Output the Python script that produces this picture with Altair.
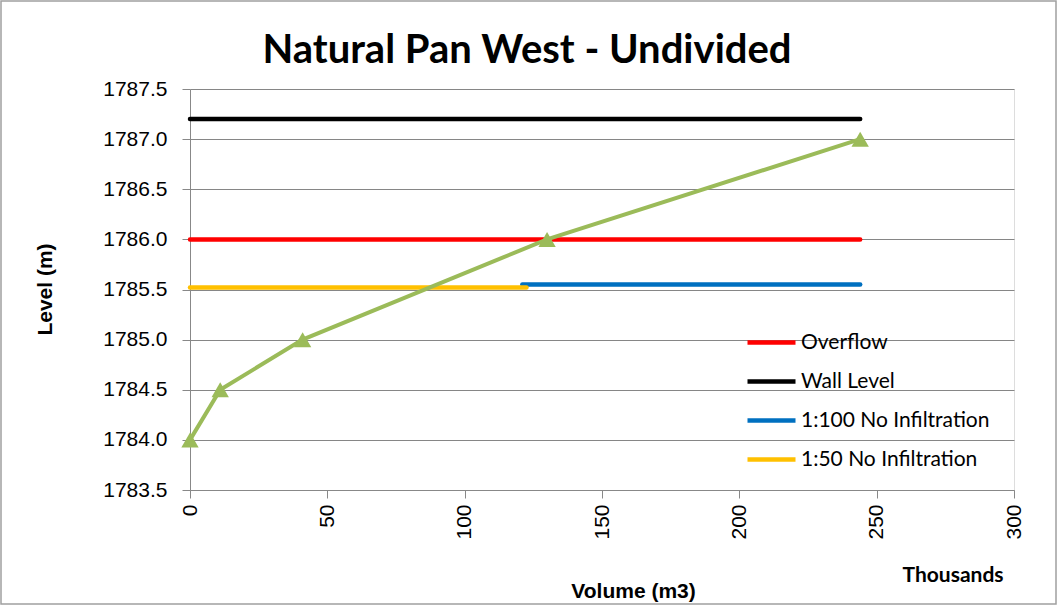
import altair as alt
import pandas as pd

# Stage-volume curve (volume in thousands of m3, level in m)
curve_volume = [0, 11, 41, 130, 244]
curve_level = [1784.0, 1784.5, 1785.0, 1786.0, 1787.0]

# Reference levels, each drawn as a horizontal line over a volume range
ref_names = ["Overflow", "Wall Level", "1:100 No Infiltration", "1:50 No Infiltration"]
ref_levels = [1786.0, 1787.2, 1785.55, 1785.52]
ref_start = [0, 0, 121, 0]
ref_end = [244, 244, 244, 122.5]
ref_colors = ["#ff0000", "#000000", "#0070c0", "#ffc000"]

x_ticks = [0, 50, 100, 150, 200, 250, 300]
y_ticks = [1783.5, 1784.0, 1784.5, 1785.0, 1785.5, 1786.0, 1786.5, 1787.0, 1787.5]

FONT = "Lato"
FS = 21

curve = pd.DataFrame({"volume": curve_volume, "level": curve_level})
refs = pd.DataFrame(
    [
        {"series": n, "volume": v, "level": lv}
        for n, lv, s, e in zip(ref_names, ref_levels, ref_start, ref_end)
        for v in (s, e)
    ]
)

x_scale = alt.Scale(domain=[0, 300], nice=False)
y_scale = alt.Scale(domain=[1783.5, 1787.5], nice=False, zero=False)

x_axis = alt.Axis(
    values=x_ticks,
    labelAngle=-90,
    labelAlign="right",
    labelBaseline="middle",
    labelFontSize=FS,
    labelPadding=6,
    tickSize=8,
    grid=False,
    title="Volume (m3)",
    titleFontSize=FS,
    titleFontWeight="bold",
    titleX=443,
    titleY=101,
    titleBaseline="middle",
)
y_axis = alt.Axis(
    values=y_ticks,
    format=".1f",
    labelFontSize=FS,
    labelPadding=15,
    tickSize=8,
    grid=True,
    gridColor="#868686",
    gridWidth=1.2,
    title="Level (m)",
    titleFontSize=FS,
    titleFontWeight="bold",
    titleX=-145,
    titleY=200,
    titleAngle=-90,
    titleBaseline="middle",
)

ref_lines = (
    alt.Chart(refs)
    .mark_line(strokeWidth=4.5, strokeCap="round")
    .encode(
        x=alt.X("volume:Q", scale=x_scale, axis=x_axis),
        y=alt.Y("level:Q", scale=y_scale, axis=y_axis),
        color=alt.Color(
            "series:N",
            scale=alt.Scale(domain=ref_names, range=ref_colors),
            sort=ref_names,
            legend=alt.Legend(
                title=None,
                orient="none",
                legendX=555,
                legendY=227,
                symbolType="stroke",
                symbolStrokeWidth=4.5,
                symbolSize=48 * 48,
                labelFontSize=FS,
                labelFont=FONT,
                labelLimit=400,
                rowPadding=2,
                labelOffset=3,
            ),
        ),
        detail="series:N",
    )
)

curve_line = (
    alt.Chart(curve)
    .mark_line(color="#9bbb59", strokeWidth=4)
    .encode(x=alt.X("volume:Q", scale=x_scale), y=alt.Y("level:Q", scale=y_scale))
)
curve_pts = (
    alt.Chart(curve)
    .mark_point(shape="triangle-up", filled=True, color="#9bbb59", opacity=1, size=300)
    .encode(x=alt.X("volume:Q", scale=x_scale), y=alt.Y("level:Q", scale=y_scale))
)

texts = pd.DataFrame({"t": ["Thousands"]})
units = (
    alt.Chart(texts)
    .mark_text(font=FONT, fontSize=FS, fontWeight="bold", align="center", baseline="middle")
    .encode(text="t:N", x=alt.value(763), y=alt.value(487))
)

heading = (
    alt.Chart(pd.DataFrame({"t": ["Natural Pan West - Undivided"]}))
    .mark_text(font=FONT, fontSize=40, fontWeight="bold", align="center", baseline="middle")
    .encode(text="t:N", x=alt.value(337), y=alt.value(-38))
)

frame = (
    alt.Chart(pd.DataFrame({"a": [0]}))
    .mark_rect(fill=None, stroke="#a0a0a0", strokeWidth=1.5)
    .encode(x=alt.value(-189), x2=alt.value(866), y=alt.value(-88), y2=alt.value(515))
)

chart = (
    alt.layer(frame, ref_lines, curve_line, curve_pts, units, heading)
    .properties(
        width=824,
        height=401,
        autosize=alt.AutoSizeParams(type="none"),
        padding={"left": 190, "top": 89, "right": 49, "bottom": 122},
    )
    .configure_view(stroke=None)
    .configure_axis(
        domainColor="#868686",
        tickColor="#868686",
        domainWidth=1.2,
        labelFont=FONT,
        titleFont=FONT,
        labelColor="#000000",
        titleColor="#000000",
    )
    .configure(background="white")
)

chart.save("out.html", embed_options={"renderer": "svg", "actions": False})
